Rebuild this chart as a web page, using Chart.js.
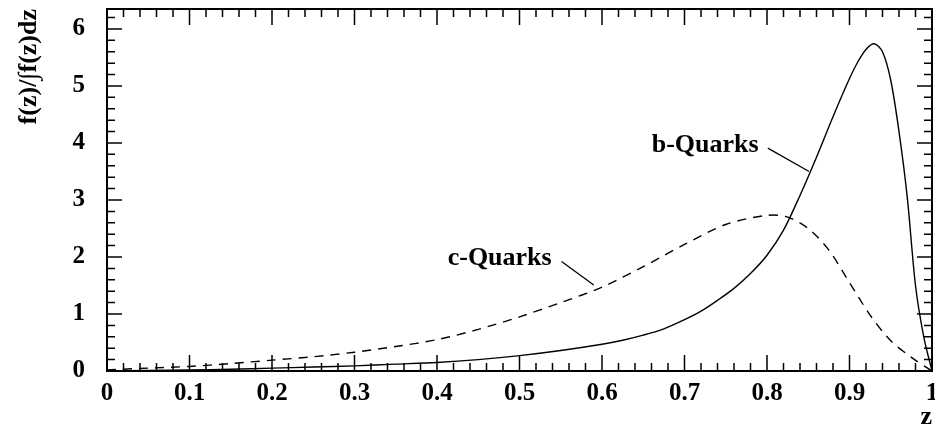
<!DOCTYPE html>
<html>
<head>
<meta charset="utf-8">
<script src="https://cdn.jsdelivr.net/npm/chart.js@4/dist/chart.umd.min.js"></script>
<style>
  body { margin: 0; background: #fff; }
  canvas { display: block; }
</style>
</head>
<body>
<canvas id="fragChart" width="935" height="428"></canvas>
<script>
  // fragmentation functions, normalised
  const zB = [0, 0.05, 0.1, 0.15, 0.2, 0.25, 0.3, 0.35, 0.4, 0.45, 0.5, 0.55, 0.6, 0.625, 0.65, 0.675, 0.7, 0.72, 0.74, 0.76, 0.78, 0.8, 0.82, 0.84, 0.86, 0.88, 0.9, 0.91, 0.92, 0.93, 0.94, 0.95, 0.96, 0.97, 0.98, 0.99, 1.0];
  const bQuarks = [0, 0.01, 0.02, 0.03, 0.05, 0.07, 0.09, 0.12, 0.15, 0.2, 0.27, 0.36, 0.47, 0.54, 0.63, 0.74, 0.9, 1.05, 1.24, 1.45, 1.71, 2.03, 2.47, 3.08, 3.75, 4.46, 5.13, 5.42, 5.64, 5.74, 5.6, 5.1, 4.2, 3.05, 1.5, 0.6, 0];

  const zC = [0, 0.05, 0.1, 0.15, 0.2, 0.25, 0.3, 0.35, 0.4, 0.45, 0.5, 0.55, 0.6, 0.65, 0.7, 0.75, 0.8, 0.825, 0.85, 0.875, 0.9, 0.925, 0.95, 0.975, 1.0];
  const cQuarks = [0.02, 0.05, 0.08, 0.13, 0.19, 0.25, 0.33, 0.43, 0.55, 0.73, 0.95, 1.2, 1.47, 1.83, 2.22, 2.57, 2.73, 2.7, 2.5, 2.12, 1.55, 0.98, 0.53, 0.24, 0];

  const xTicks = [0, 0.1, 0.2, 0.3, 0.4, 0.5, 0.6, 0.7, 0.8, 0.9, 1];
  const yTicks = [0, 1, 2, 3, 4, 5, 6];

  // curve labels: text position and leader line, in data units
  const labels = [
    { text: 'b-Quarks', at: [0.725, 3.96], line: [[0.801, 3.91], [0.851, 3.50]] },
    { text: 'c-Quarks', at: [0.476, 1.98], line: [[0.551, 1.92], [0.590, 1.51]] }
  ];

  const serif = '"Liberation Serif", "Times New Roman", serif';

  const toPoints = (xs, ys) => xs.map((x, i) => ({ x: x, y: ys[i] }));

  // frame with inward ticks on all four sides, plus curve labels
  const framePlugin = {
    id: 'frame',
    afterDatasetsDraw(chart) {
      const { ctx, chartArea: a, scales: { x, y } } = chart;
      ctx.save();
      ctx.strokeStyle = '#000';
      ctx.lineWidth = 1.5;
      ctx.beginPath();
      for (let i = 0; i <= 50; i++) {
        const px = x.getPixelForValue(i / 50);
        const len = i % 5 === 0 ? 16 : 8;
        ctx.moveTo(px, a.bottom); ctx.lineTo(px, a.bottom - len);
        ctx.moveTo(px, a.top); ctx.lineTo(px, a.top + len);
      }
      for (let i = 0; i * 0.2 <= y.max + 1e-9; i++) {
        const py = y.getPixelForValue(i * 0.2);
        const len = i % 5 === 0 ? 15 : 8;
        ctx.moveTo(a.left, py); ctx.lineTo(a.left + len, py);
        ctx.moveTo(a.right, py); ctx.lineTo(a.right - len, py);
      }
      ctx.stroke();
      ctx.lineWidth = 2;
      ctx.strokeRect(a.left, a.top, a.right - a.left, a.bottom - a.top);

      ctx.lineWidth = 1.3;
      ctx.fillStyle = '#000';
      ctx.font = 'bold 26px ' + serif;
      ctx.textAlign = 'center';
      ctx.textBaseline = 'middle';
      labels.forEach(l => {
        ctx.fillText(l.text, x.getPixelForValue(l.at[0]), y.getPixelForValue(l.at[1]));
        ctx.beginPath();
        ctx.moveTo(x.getPixelForValue(l.line[0][0]), y.getPixelForValue(l.line[0][1]));
        ctx.lineTo(x.getPixelForValue(l.line[1][0]), y.getPixelForValue(l.line[1][1]));
        ctx.stroke();
      });
      ctx.restore();
    }
  };

  new Chart(document.getElementById('fragChart'), {
    type: 'line',
    data: {
      datasets: [
        {
          label: 'b-Quarks',
          data: toPoints(zB, bQuarks),
          borderColor: '#000',
          borderWidth: 1.4,
          pointRadius: 0,
          tension: 0.3
        },
        {
          label: 'c-Quarks',
          data: toPoints(zC, cQuarks),
          borderColor: '#000',
          borderWidth: 1.4,
          borderDash: [9, 7],
          pointRadius: 0,
          tension: 0.3
        }
      ]
    },
    options: {
      responsive: false,
      animation: false,
      layout: { padding: { top: 9, right: 3, left: 0, bottom: 0 } },
      plugins: {
        legend: { display: false },
        tooltip: { enabled: false }
      },
      scales: {
        x: {
          type: 'linear',
          min: 0,
          max: 1,
          afterBuildTicks: s => { s.ticks = xTicks.map(v => ({ value: v })); },
          afterFit: s => { s.height = 57; s.paddingLeft = 0; s.paddingRight = 0; },
          grid: { display: false, drawTicks: false },
          border: { display: false },
          ticks: {
            color: '#000',
            padding: 8,
            maxRotation: 0,
            autoSkip: false,
            callback: v => String(v),
            font: { family: serif, size: 25, weight: 'bold' }
          },
          title: {
            display: true,
            text: 'z',
            align: 'end',
            color: '#000',
            padding: { top: 0, bottom: -5 },
            font: { family: serif, size: 26, weight: 'bold' }
          }
        },
        y: {
          min: 0,
          max: 6.35,
          afterBuildTicks: s => { s.ticks = yTicks.map(v => ({ value: v })); },
          afterFit: s => { s.width = 107; s.paddingTop = 0; s.paddingBottom = 0; },
          grid: { display: false, drawTicks: false },
          border: { display: false },
          ticks: {
            color: '#000',
            padding: 22,
            font: { family: serif, size: 25, weight: 'bold' }
          },
          title: {
            display: true,
            text: 'f(z)/∫f(z)dz',
            align: 'end',
            color: '#000',
            padding: { top: 14, bottom: 0 },
            font: { family: serif, size: 26, weight: 'bold' }
          }
        }
      }
    },
    plugins: [framePlugin]
  });
</script>
</body>
</html>
